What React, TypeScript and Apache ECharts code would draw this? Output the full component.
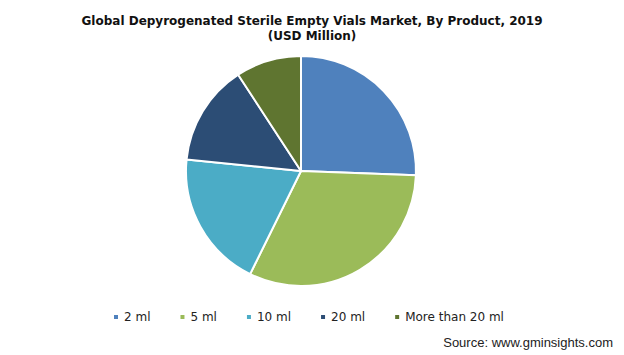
import React, { useEffect, useRef } from "react";
import * as echarts from "echarts";

const categories = ["2 ml", "5 ml", "10 ml", "20 ml", "More than 20 ml"];
const values = [25.6, 31.7, 19.3, 14.2, 9.2];
const colors = ["#4F81BD", "#9BBB59", "#4BACC6", "#2C4D75", "#5F7530"];

export default function App() {
  const ref = useRef<HTMLDivElement>(null);
  useEffect(() => {
    if (!ref.current) return;
    const chart = echarts.init(ref.current, null, { renderer: "svg" });
    chart.setOption({
      animation: false,
      backgroundColor: "#ffffff",
      title: {
        text: "Global Depyrogenated Sterile Empty Vials Market, By Product, 2019\n(USD Million)",
        left: "center",
        top: 8,
        textStyle: {
          fontFamily: "DejaVu Sans",
          fontWeight: "bold",
          fontSize: 12,
          lineHeight: 15,
          color: "#111",
        },
      },
      legend: {
        data: categories,
        top: 306,
        left: 107,
        icon: "rect",
        itemWidth: 6,
        itemHeight: 6,
        itemGap: 28,
        textStyle: { fontFamily: "DejaVu Sans", fontSize: 12, color: "#222" },
      },
      graphic: [
        {
          type: "text",
          right: 11,
          top: 336,
          style: {
            text: "Source: www.gminsights.com",
            font: "13px 'Liberation Sans'",
            fill: "#222",
          },
        },
      ],
      series: [
        {
          type: "pie",
          center: [301, 171],
          radius: 115,
          startAngle: 90,
          clockwise: true,
          label: { show: false },
          labelLine: { show: false },
          itemStyle: { borderColor: "#fff", borderWidth: 2 },
          data: categories.map((c, i) => ({
            name: c,
            value: values[i],
            itemStyle: { color: colors[i] },
          })),
        },
      ],
    });
    return () => chart.dispose();
  }, []);
  return (
    <div
      ref={ref}
      style={{ position: "fixed", left: 0, top: 0, width: 624, height: 355 }}
    />
  );
}
